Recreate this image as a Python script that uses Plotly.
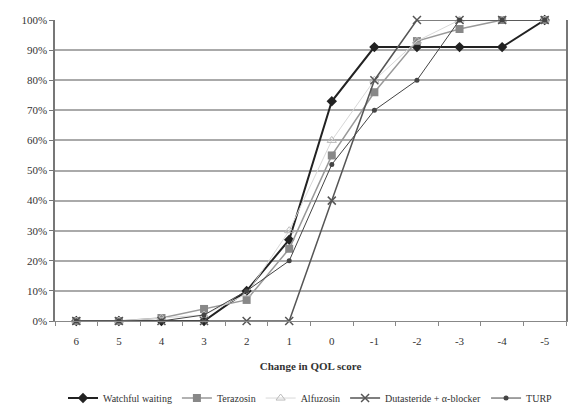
import plotly.graph_objects as go

categories = ["6", "5", "4", "3", "2", "1", "0", "-1", "-2", "-3", "-4", "-5"]
watchful = [0, 0, 0, 0, 0.10, 0.27, 0.73, 0.91, 0.91, 0.91, 0.91, 1.00]
terazosin = [0, 0, 0.01, 0.04, 0.07, 0.24, 0.55, 0.76, 0.93, 0.97, 1.00, 1.00]
alfuzosin = [0, 0, 0.01, 0.02, 0.09, 0.30, 0.60, 0.80, 0.93, 1.00, 1.00, 1.00]
dutasteride = [0, 0, 0, 0, 0, 0, 0.40, 0.80, 1.00, 1.00, 1.00, 1.00]
turp = [0, 0, 0, 0.02, 0.10, 0.20, 0.52, 0.70, 0.80, 1.00, 1.00, 1.00]
y_ticks = [0, 0.1, 0.2, 0.3, 0.4, 0.5, 0.6, 0.7, 0.8, 0.9, 1.0]

series = [
    ("Watchful waiting", watchful, dict(color="#222", width=2), dict(symbol="diamond", size=8, color="#222")),
    ("Terazosin", terazosin, dict(color="#999", width=1.5), dict(symbol="square", size=8, color="#888")),
    ("Alfuzosin", alfuzosin, dict(color="#d8d8d8", width=1), dict(symbol="triangle-up-open", size=8, color="#bbb")),
    ("Dutasteride + α-blocker", dutasteride, dict(color="#555", width=1.5), dict(symbol="x-thin-open", size=8, color="#555", line=dict(width=1.5, color="#555"))),
    ("TURP", turp, dict(color="#444", width=1), dict(symbol="circle", size=5, color="#444")),
]

fig = go.Figure()
for name, vals, line, marker in series:
    fig.add_trace(go.Scatter(x=categories, y=vals, name=name, mode="lines+markers",
                             line=line, marker=marker, cliponaxis=False))

font = dict(family="Liberation Serif, Times New Roman, serif", color="#333")
fig.update_layout(
    width=573, height=407,
    margin=dict(l=55, r=5, t=20, b=86),
    paper_bgcolor="white", plot_bgcolor="white",
    font=dict(**font, size=11),
    showlegend=True,
    legend=dict(orientation="h", x=0.5, xanchor="center", yref="container", y=0.022, yanchor="middle",
                font=dict(size=10), itemwidth=30, tracegroupgap=0),
    xaxis=dict(type="category", range=[-0.5, 11.5], showgrid=False,
               showline=True, linecolor="#888", linewidth=1,
               ticks="outside", tickson="boundaries", ticklen=4, tickcolor="#888",
               ticklabelstandoff=10,
               title=dict(text="<b>Change in QOL score</b>", font=dict(size=11), standoff=16)),
    yaxis=dict(range=[0, 1], tickvals=y_ticks, tickformat=".0%",
               showgrid=True, gridcolor="#aaa", gridwidth=2,
               showline=True, linecolor="#777", linewidth=1.5, mirror=True,
               ticks="outside", ticklen=4, tickcolor="#777", zeroline=False),
)
fig.write_html("out.html")
